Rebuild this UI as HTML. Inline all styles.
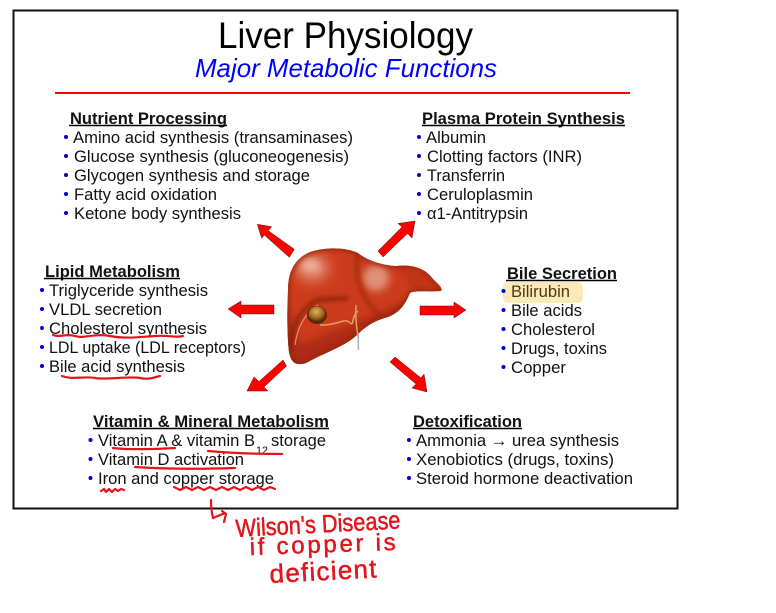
<!DOCTYPE html>
<html><head><meta charset="utf-8"><style>
html,body{margin:0;padding:0;background:#fff;width:776px;height:613px;overflow:hidden}
svg{display:block}
text{font-family:"Liberation Sans",sans-serif;fill:#111}
.i{font-size:16.5px}
.h{font-size:16.5px;font-weight:bold}
.hw{font-style:normal;fill:#e3141c;stroke:#e3141c;stroke-width:.5px}
.a{fill:#f00;stroke:#5a1010;stroke-width:.5}
.u{stroke:#000;stroke-width:1.6}
.r{fill:none;stroke:#e3141c;stroke-width:2.2;stroke-linecap:round;stroke-linejoin:round}
</style></head><body>
<svg width="776" height="613" viewBox="0 0 776 613" xmlns="http://www.w3.org/2000/svg">
<defs>
<filter id="b4" x="-30%" y="-30%" width="160%" height="160%"><feGaussianBlur stdDeviation="4"/></filter>
<filter id="b2" x="-30%" y="-30%" width="160%" height="160%"><feGaussianBlur stdDeviation="2"/></filter>
<filter id="b7" x="-50%" y="-50%" width="200%" height="200%"><feGaussianBlur stdDeviation="7"/></filter>
<clipPath id="lc"><path d="M288 290C288 270 296 258 310 252C326 247 345 247 358 253C368 261 382 265 396 266C412 264 425 268 433 279C439 285 443 288 441 291C430 292 415 290 410 293C405 305 400 312 388 317C376 320 366 326 358 334C346 346 326 352 306 363C296 366 291 363 289 352C287 335 287 310 288 290Z"/></clipPath>
<radialGradient id="gb" cx=".45" cy=".35" r=".65"><stop offset="0" stop-color="#e0b25a"/><stop offset=".6" stop-color="#a86a20"/><stop offset="1" stop-color="#5e2a10"/></radialGradient>
</defs>
<rect x="13.500" y="10.500" width="664" height="498" fill="#fff" stroke="#111" stroke-width="2"/>
<text x="218" y="48" font-size="37" textLength="255" lengthAdjust="spacingAndGlyphs" style="fill:#000">Liver Physiology</text>
<text x="195" y="77" font-size="26" font-style="italic" textLength="302" lengthAdjust="spacingAndGlyphs" style="fill:#00f">Major Metabolic Functions</text>
<rect x="55" y="92" width="575" height="2" fill="#f00"/>

<rect x="503" y="282" width="80" height="21" rx="5" fill="#fde9b8"/>

<!-- Nutrient -->
<text class="h" x="70" y="124" textLength="157" lengthAdjust="spacingAndGlyphs">Nutrient Processing</text><line class="u" x1="69" x2="227" y1="125.500" y2="125.500"/>
<text class="i" x="73" y="143" textLength="280" lengthAdjust="spacingAndGlyphs">Amino acid synthesis (transaminases)</text>
<text class="i" x="74" y="162" textLength="275" lengthAdjust="spacingAndGlyphs">Glucose synthesis (gluconeogenesis)</text>
<text class="i" x="74" y="181" textLength="236" lengthAdjust="spacingAndGlyphs">Glycogen synthesis and storage</text>
<text class="i" x="74" y="200" textLength="143" lengthAdjust="spacingAndGlyphs">Fatty acid oxidation</text>
<text class="i" x="74" y="219" textLength="167" lengthAdjust="spacingAndGlyphs">Ketone body synthesis</text>
<g fill="#00c"><circle cx="66" cy="137" r="2"/><circle cx="66" cy="156" r="2"/><circle cx="66" cy="175" r="2"/><circle cx="66" cy="194" r="2"/><circle cx="66" cy="213" r="2"/></g>

<!-- Plasma -->
<text class="h" x="422" y="124" textLength="203" lengthAdjust="spacingAndGlyphs">Plasma Protein Synthesis</text><line class="u" x1="422" x2="625" y1="125.500" y2="125.500"/>
<text class="i" x="426" y="143" textLength="60" lengthAdjust="spacingAndGlyphs">Albumin</text>
<text class="i" x="427" y="162" textLength="155" lengthAdjust="spacingAndGlyphs">Clotting factors (INR)</text>
<text class="i" x="427" y="181" textLength="78" lengthAdjust="spacingAndGlyphs">Transferrin</text>
<text class="i" x="427" y="200" textLength="106" lengthAdjust="spacingAndGlyphs">Ceruloplasmin</text>
<text class="i" x="427" y="219" textLength="101" lengthAdjust="spacingAndGlyphs">α1-Antitrypsin</text>
<g fill="#00c"><circle cx="419" cy="137" r="2"/><circle cx="419" cy="156" r="2"/><circle cx="419" cy="175" r="2"/><circle cx="419" cy="194" r="2"/><circle cx="419" cy="213" r="2"/></g>

<!-- Lipid -->
<text class="h" x="45" y="277" textLength="135" lengthAdjust="spacingAndGlyphs">Lipid Metabolism</text><line class="u" x1="44" x2="180" y1="278.500" y2="278.500"/>
<text class="i" x="49" y="296" textLength="159" lengthAdjust="spacingAndGlyphs">Triglyceride synthesis</text>
<text class="i" x="49" y="315" textLength="113" lengthAdjust="spacingAndGlyphs">VLDL secretion</text>
<text class="i" x="49" y="334" textLength="158" lengthAdjust="spacingAndGlyphs">Cholesterol synthesis</text>
<text class="i" x="49" y="353" textLength="197" lengthAdjust="spacingAndGlyphs">LDL uptake (LDL receptors)</text>
<text class="i" x="49" y="372" textLength="136" lengthAdjust="spacingAndGlyphs">Bile acid synthesis</text>
<g fill="#00c"><circle cx="42" cy="290" r="2"/><circle cx="42" cy="309" r="2"/><circle cx="42" cy="328" r="2"/><circle cx="42" cy="347" r="2"/><circle cx="42" cy="366" r="2"/></g>

<!-- Bile -->
<text class="h" x="507" y="279" textLength="110" lengthAdjust="spacingAndGlyphs">Bile Secretion</text><line class="u" x1="506" x2="617" y1="280.500" y2="280.500"/>
<text class="i" x="511" y="297" textLength="59" lengthAdjust="spacingAndGlyphs" style="fill:#4a3a12">Bilirubin</text>
<text class="i" x="511" y="316" textLength="71" lengthAdjust="spacingAndGlyphs">Bile acids</text>
<text class="i" x="511" y="335" textLength="84" lengthAdjust="spacingAndGlyphs">Cholesterol</text>
<text class="i" x="511" y="354" textLength="96" lengthAdjust="spacingAndGlyphs">Drugs, toxins</text>
<text class="i" x="511" y="373" textLength="55" lengthAdjust="spacingAndGlyphs">Copper</text>
<g fill="#00c"><circle cx="503.500" cy="291" r="2"/><circle cx="503.500" cy="310" r="2"/><circle cx="503.500" cy="329" r="2"/><circle cx="503.500" cy="348" r="2"/><circle cx="503.500" cy="367" r="2"/></g>

<!-- Vitamin -->
<text class="h" x="93" y="427" textLength="236" lengthAdjust="spacingAndGlyphs">Vitamin &amp; Mineral Metabolism</text><line class="u" x1="93" x2="329" y1="428.500" y2="428.500"/>
<text class="i" x="98" y="446" textLength="157" lengthAdjust="spacingAndGlyphs">Vitamin A &amp; vitamin B</text>
<text x="256" y="454" font-size="11" textLength="12" lengthAdjust="spacingAndGlyphs">12</text>
<text class="i" x="271" y="446" textLength="55" lengthAdjust="spacingAndGlyphs">storage</text>
<text class="i" x="98" y="465" textLength="146" lengthAdjust="spacingAndGlyphs">Vitamin D activation</text>
<text class="i" x="98" y="484" textLength="176" lengthAdjust="spacingAndGlyphs">Iron and copper storage</text>
<g fill="#00c"><circle cx="90.500" cy="440" r="2"/><circle cx="90.500" cy="459" r="2"/><circle cx="90.500" cy="478" r="2"/></g>

<!-- Detox -->
<text class="h" x="413" y="427" textLength="109" lengthAdjust="spacingAndGlyphs">Detoxification</text><line class="u" x1="413" x2="522" y1="428.500" y2="428.500"/>
<text class="i" x="416" y="446" textLength="203" lengthAdjust="spacingAndGlyphs">Ammonia → urea synthesis</text>
<text class="i" x="416" y="465" textLength="198" lengthAdjust="spacingAndGlyphs">Xenobiotics (drugs, toxins)</text>
<text class="i" x="416" y="484" textLength="217" lengthAdjust="spacingAndGlyphs">Steroid hormone deactivation</text>
<g fill="#00c"><circle cx="409" cy="440" r="2"/><circle cx="409" cy="459" r="2"/><circle cx="409" cy="478" r="2"/></g>

<!-- Liver -->
<g clip-path="url(#lc)">
<rect x="280" y="240" width="170" height="130" fill="#cc3c1c"/>
<path d="M285 370L285 300L300 345L360 320L410 300L445 295L445 370Z" fill="#ad2a12" filter="url(#b4)"/>
<path d="M395 268C412 266 425 270 441 291L412 291L405 278Z" fill="#c03518" filter="url(#b2)"/>
<ellipse cx="312" cy="268" rx="16" ry="12" fill="#e89a80" filter="url(#b7)"/>
<ellipse cx="310" cy="265" rx="8" ry="5" fill="#f0b8a4" filter="url(#b4)"/>
<ellipse cx="376" cy="278" rx="13" ry="13" fill="#e0917a" filter="url(#b4)"/>
<path d="M358 252C354 272 358 296 382 318" fill="none" stroke="#9a2810" stroke-width="3" filter="url(#b2)"/>
<path d="M290 350C291 328 300 308 318 300L348 298" fill="none" stroke="#7a1c0a" stroke-width="3" filter="url(#b2)"/>
<path d="M295 345C297 328 305 313 318 305" fill="none" stroke="#e8906a" stroke-width="1.200"/>
<path d="M288 290C288 270 296 258 310 252C326 247 345 247 358 253C368 261 382 265 396 266C412 264 425 268 433 279C439 285 443 288 441 291C430 292 415 290 410 293C405 305 400 312 388 317C376 320 366 326 358 334C346 346 326 352 306 363C296 366 291 363 289 352C287 335 287 310 288 290Z" fill="none" stroke="#8e200c" stroke-width="3" filter="url(#b2)"/>
</g>
<ellipse cx="317" cy="315" rx="10" ry="9" fill="#5a2410"/>
<ellipse cx="317" cy="314" rx="8.500" ry="7.500" fill="url(#gb)"/>
<path d="M320 325C335 326 345 318 349 322C355 328 350 318 358 311M356 305C355 320 357 330 358 336" fill="none" stroke="#dba25a" stroke-width="1.500"/>
<line x1="358" y1="334" x2="358.500" y2="350" stroke="#aaa" stroke-width="1.400"/>

<!-- Arrows -->
<path class="a" d="M257.300 224.300L271.700 226.700L268.300 230.700L294.300 249.300L289.300 257.300L264.300 235L261.700 238.300Z"/>
<path class="a" d="M415 221L412 238L407.500 233.500L383 257L378 251L402 227L398 223.500Z"/>
<path class="a" d="M228 309L241 301V305H274V314H241V318Z"/>
<path class="a" d="M466 310L454 302V306H420V315H454V318Z"/>
<path class="a" d="M247 391L254 377L259 381.500L283 360L286.500 366L264 387L268 391Z"/>
<path class="a" d="M427 392L412 388L416 384L390 362L395 357L421 378L424 374Z"/>

<!-- Annotations -->
<path class="r" d="M53 335C60 338 66 333 75 336S95 333 110 336S140 337 155 336S175 338 183 336"/>
<path class="r" d="M62 376C72 380 85 376 95 378S130 376 140 378S155 377 160 376"/>
<path class="r" d="M113 448C130 450 160 449 175 448"/>
<path class="r" d="M208 451C230 453 260 454 282 454"/>
<path class="r" d="M135 467C165 469 205 469 235 468"/>
<path class="r" d="M101 491L104 489L106 492L109 489L112 492L115 489L118 491L121 489L124 490"/>
<path class="r" d="M174 487L180 490L186 487L192 490L198 487L204 490L210 487L216 490L222 487L228 490L234 487L240 490L246 487L252 490L258 487L264 490L270 487L275 489"/>
<path class="r" d="M211 500C211 508 212 514 213 518L225 513M222 511L226 514L224 522"/>
<text class="hw" transform="rotate(-3 236 537)" x="236" y="537" font-size="25" textLength="165" lengthAdjust="spacingAndGlyphs">Wilson's Disease</text>
<text class="hw" transform="rotate(-2 250 555)" x="250" y="555" font-size="24" textLength="146" lengthAdjust="spacing">if copper is</text>
<text class="hw" transform="rotate(-3 270 583)" x="270" y="583" font-size="26" textLength="107" lengthAdjust="spacing">deficient</text>
</svg>
</body></html>
